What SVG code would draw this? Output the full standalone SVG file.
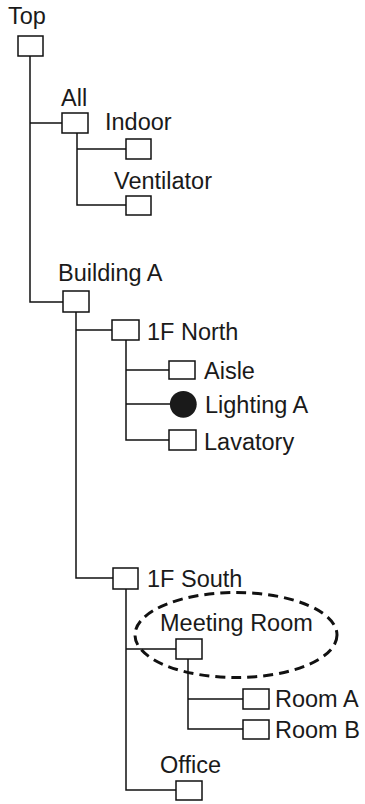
<svg xmlns="http://www.w3.org/2000/svg" width="365" height="804" viewBox="0 0 365 804">
<style>
.n{fill:#fff;stroke:#111;stroke-width:1.5}
.t{font-family:"Liberation Sans",Arial,sans-serif;font-size:23.5px;fill:#1a1a1a}
.c{fill:none;stroke:#111;stroke-width:1.5}
</style>
<rect width="365" height="804" fill="#fff"/>
<g id="connectors">
<path class="c" d="M30,56V302H63M30,123H62"/>
<path class="c" d="M77,133V205H126M77,149H126"/>
<path class="c" d="M76,311V578H113M76,330H112"/>
<path class="c" d="M126,340V440H169M126,370H169M126,404H170"/>
<path class="c" d="M126,588V790H176M126,649H176"/>
<path class="c" d="M188,659V729H243M188,699H243"/>
</g>
<g id="top"><rect class="n" x="18" y="36" width="25" height="20"/><text class="t" x="8" y="24">Top</text></g>
<g id="all"><rect class="n" x="62" y="113" width="26" height="20"/><text class="t" x="61" y="106">All</text></g>
<g id="indoor"><rect class="n" x="126" y="139" width="25" height="20"/><text class="t" x="105" y="130">Indoor</text></g>
<g id="ventilator"><rect class="n" x="126" y="196" width="25" height="19"/><text class="t" x="114" y="189">Ventilator</text></g>
<g id="building-a"><rect class="n" x="63" y="291" width="26" height="21"/><text class="t" x="58" y="281">Building A</text></g>
<g id="f1-north"><rect class="n" x="112" y="320" width="27" height="20"/><text class="t" x="147" y="340">1F North</text></g>
<g id="aisle"><rect class="n" x="169" y="361" width="26" height="18"/><text class="t" x="204" y="379">Aisle</text></g>
<g id="lighting-a"><circle cx="183.3" cy="404.3" r="13.4" fill="#1a1a1a"/><text class="t" x="205" y="413">Lighting A</text></g>
<g id="lavatory"><rect class="n" x="169" y="430" width="27" height="20"/><text class="t" x="204" y="450">Lavatory</text></g>
<g id="f1-south"><rect class="n" x="113" y="568" width="25" height="21"/><text class="t" x="147" y="587">1F South</text></g>
<g id="meeting-room"><rect class="n" x="176" y="639" width="26" height="20"/><text class="t" x="160" y="631">Meeting Room</text>
<ellipse cx="236" cy="635" rx="101" ry="42.5" fill="none" stroke="#111" stroke-width="3" stroke-dasharray="10 6"/></g>
<g id="room-a"><rect class="n" x="243" y="689" width="26" height="20"/><text class="t" x="275" y="707">Room A</text></g>
<g id="room-b"><rect class="n" x="243" y="720" width="26" height="19"/><text class="t" x="275" y="738">Room B</text></g>
<g id="office"><rect class="n" x="176" y="781" width="26" height="19"/><text class="t" x="160" y="773">Office</text></g>
</svg>
